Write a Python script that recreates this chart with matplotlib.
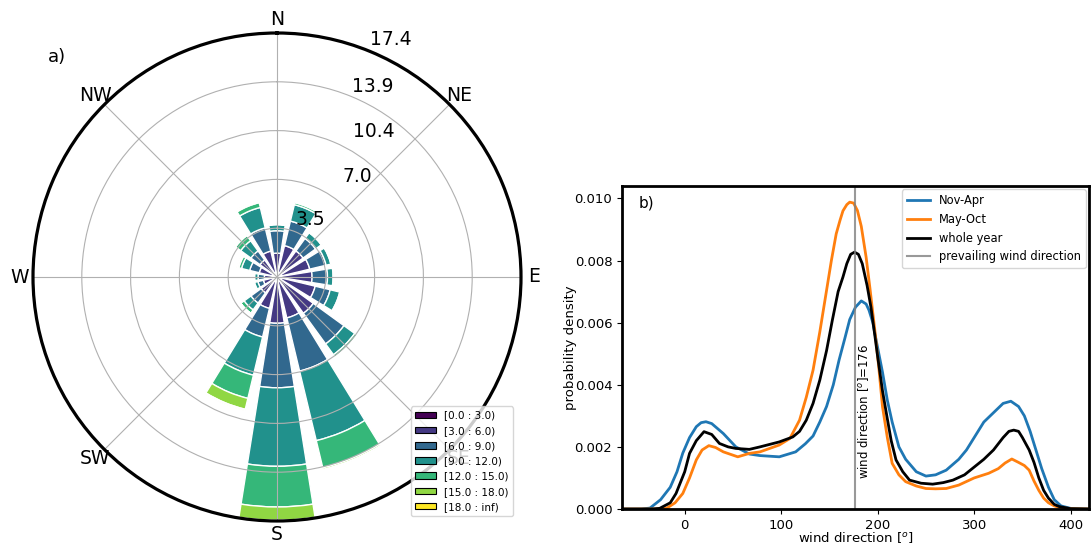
import numpy as np
import matplotlib
matplotlib.use("Agg")
import matplotlib.pyplot as plt
from matplotlib.patches import Patch
from matplotlib.transforms import offset_copy

# ---------------- data: wind rose (percent per sector and speed bin) ----------------
directions = [0, 22.5, 45, 67.5, 90, 112.5, 135, 157.5, 180, 202.5, 225, 247.5, 270, 292.5, 315, 337.5]
speed_labels = ["[0.0 : 3.0)", "[3.0 : 6.0)", "[6.0 : 9.0)", "[9.0 : 12.0)",
                "[12.0 : 15.0)", "[15.0 : 18.0)", "[18.0 : inf)"]
bin_0_3 =   [0.3, 0.3, 0.3, 0.3, 0.3, 0.3, 0.3, 0.3, 0.3, 0.3, 0.3, 0.25, 0.25, 0.3, 0.3, 0.3]
bin_3_6 =   [1.4, 2.0, 2.0, 2.1, 2.2, 2.5, 2.9, 2.7, 3.0, 2.0, 1.1, 0.75, 0.65, 1.0, 1.2, 1.6]
bin_6_9 =   [1.6, 1.8, 1.1, 1.2, 1.1, 1.1, 2.7, 3.9, 4.6, 2.1, 0.9, 0.4, 0.45, 0.7, 0.8, 1.7]
bin_9_12 =  [0.45, 1.2, 0.5, 0.35, 0.4, 0.7, 0.95, 5.1, 5.6, 2.8, 0.6, 0.25, 0.25, 0.6, 0.9, 1.5]
bin_12_15 = [0.0, 0.15, 0.1, 0.05, 0.1, 0.1, 0.2, 2.0, 2.9, 1.7, 0.3, 0.1, 0.1, 0.2, 0.45, 0.35]
bin_15_18 = [0.0, 0.05, 0.0, 0.0, 0.0, 0.0, 0.05, 0.12, 0.95, 0.8, 0.0, 0.0, 0.0, 0.1, 0.1, 0.1]
bin_18_inf = [0.0, 0.0, 0.0, 0.0, 0.0, 0.0, 0.0, 0.03, 0.05, 0.1, 0.0, 0.0, 0.0, 0.05, 0.0, 0.05]
rose_bins = [bin_0_3, bin_3_6, bin_6_9, bin_9_12, bin_12_15, bin_15_18, bin_18_inf]
compass_labels = ["N", "NE", "E", "SE", "S", "SW", "W", "NW"]

# ---------------- data: KDE curves ----------------
nov_apr_x = [-65, -45, -36, -25, -15, -8, -2, 5, 12, 17, 22, 28, 40, 53, 67, 78, 98, 115, 125, 133,
             140, 147, 154, 160, 166, 171, 177, 183, 188, 191, 195, 198, 205, 210, 215, 222, 229, 240, 250, 260,
             271, 284, 292, 300, 310, 320, 330, 338, 346, 352, 358, 364, 370, 377, 383, 390, 400, 419]
nov_apr_y = [0, 0, 0.00003, 0.0003, 0.0007, 0.0012, 0.0018, 0.0023, 0.00265, 0.00278,
             0.00281, 0.00275, 0.00243, 0.002, 0.00177, 0.00172, 0.00168, 0.00184, 0.0021, 0.00235,
             0.0028, 0.0033, 0.0040, 0.0048, 0.0055, 0.0061, 0.0065, 0.0067, 0.0066, 0.0064,
             0.0060, 0.0055, 0.0044, 0.0035, 0.0028, 0.0020, 0.0016, 0.0012, 0.00106, 0.0011,
             0.00125, 0.0016, 0.0019, 0.0023, 0.0028, 0.0031, 0.0034, 0.00347, 0.0033, 0.0030,
             0.0025, 0.0019, 0.0013, 0.0007, 0.0003, 0.0001, 0.00002, 0]

may_oct_x = [-65, -30, -19, -10, -2, 5, 12, 18, 25, 32, 40, 55, 67, 78, 98, 109, 119, 126, 133, 140,
             147, 152, 157, 161, 164, 168, 171, 175, 179, 183, 188, 192, 197, 201, 205, 210, 215, 222, 229, 240,
             250, 260, 271, 284, 300, 315, 325, 332, 339, 346, 352, 357, 362, 367, 372, 377, 383, 388, 400, 419]
may_oct_y = [0, 0, 0.00002, 0.0002, 0.0005, 0.001, 0.00158, 0.0019, 0.00204, 0.00198,
             0.00184, 0.00168, 0.00179, 0.00184, 0.00206, 0.00227, 0.00286, 0.0036, 0.00447, 0.0057,
             0.00704, 0.0080, 0.00886, 0.0093, 0.0096, 0.0098, 0.00988, 0.00985, 0.00961, 0.0091,
             0.00811, 0.0071, 0.00576, 0.0046, 0.00329, 0.0023, 0.00147, 0.0011, 0.00088, 0.00074,
             0.00066, 0.00065, 0.00066, 0.00077, 0.001, 0.00115, 0.0013, 0.00148, 0.00161, 0.0015,
             0.0014, 0.00125, 0.0009, 0.0006, 0.00035, 0.0002, 0.0001, 0.00005, 0.00001, 0]

whole_x = [-65, -35, -26, -15, -9, 0, 5, 12, 20, 28, 36, 45, 53, 67, 78, 98, 112, 119, 126, 133,
           140, 147, 153, 159, 164, 168, 172, 176, 180, 184, 189, 193, 197, 200, 205, 209, 214, 219, 226, 233,
           245, 257, 268, 278, 290, 300, 310, 320, 330, 336, 341, 346, 350, 357, 362, 367, 372, 377, 383, 388,
           400, 419]
whole_y = [0, 0, 0.00002, 0.0002, 0.0005, 0.0012, 0.00179, 0.0022, 0.00249, 0.0024,
           0.00211, 0.002, 0.00195, 0.00192, 0.002, 0.00216, 0.00232, 0.0025, 0.00286, 0.0034,
           0.00415, 0.0051, 0.00608, 0.0070, 0.00747, 0.0079, 0.0082, 0.00827, 0.0082, 0.0079,
           0.0072, 0.0065, 0.0056, 0.0049, 0.0038, 0.00308, 0.0022, 0.00158, 0.0012, 0.00093,
           0.00083, 0.0008, 0.00085, 0.00093, 0.0011, 0.00135, 0.0016, 0.0019, 0.0023, 0.0025,
           0.00254, 0.0025, 0.0023, 0.0019, 0.0015, 0.001, 0.0006, 0.00035, 0.00015, 0.00008,
           0.00001, 0]

prevailing_dir = 176

# ---------------- figure ----------------
fig = plt.figure(figsize=(10.91, 5.47), dpi=100)

# ---- a) wind rose ----
ax = fig.add_axes([33 / 1091, 26 / 547, 488 / 1091, 488 / 547], projection="polar")
ax.set_theta_zero_location("N")
ax.set_theta_direction(-1)
colors = plt.cm.viridis(np.linspace(0, 1, len(rose_bins)))
theta = np.deg2rad(directions)
width = np.deg2rad(360 / len(directions)) * 0.8
bottom = np.zeros(len(directions))
for vals, col, lab in zip(rose_bins, colors, speed_labels):
    vals = np.asarray(vals, dtype=float)
    ax.bar(theta, vals, width=width, bottom=bottom, color=col, edgecolor="white",
           linewidth=1.0, label=lab, zorder=1)
    bottom = bottom + vals
rmax = bottom.max()
ax.set_ylim(0, rmax)
ax.set_axisbelow(False)
radii = np.linspace(0, rmax, 6)[1:]
ax.set_rgrids(radii[:-1], labels=[""] * (len(radii) - 1), angle=22.5)
# radial labels, placed beside the rings along 22.5 deg
label_shift = [(0, 12), (28, 10), (20, 10), (0, 10), (0, 12)]
for r, (dx, dy) in zip(radii, label_shift):
    tr = offset_copy(ax.transData, fig=fig, x=dx, y=dy, units="dots")
    ax.text(np.deg2rad(22.5), r, "%.1f" % r, transform=tr, ha="left", va="center",
            fontsize=13.5, zorder=5)
ax.set_thetagrids(np.arange(0, 360, 45), labels=compass_labels, fontsize=13.5)
ax.grid(True, color="#b0b0b0", linewidth=0.8)
ax.spines["polar"].set_linewidth(2.3)
ax.spines["polar"].set_zorder(4)
ax.tick_params(axis="x", pad=-1)

handles = [Patch(facecolor=c, edgecolor="black", linewidth=0.8) for c in colors]
fig.legend(handles, speed_labels, loc="lower left", bbox_to_anchor=(411 / 1091, 31 / 547),
           bbox_transform=fig.transFigure, borderaxespad=0, fontsize=7.5,
           handlelength=2.0, handleheight=0.6, labelspacing=0.5)
fig.text(57 / 1091, 1 - 57 / 547, "a)", fontsize=13, ha="center", va="center")

# ---- b) KDE ----
ax2 = fig.add_axes([622 / 1091, 1 - 509 / 547, 467 / 1091, 323 / 547])
ax2.plot(nov_apr_x, nov_apr_y, color="#1f77b4", lw=2, label="Nov-Apr")
ax2.plot(may_oct_x, may_oct_y, color="#ff7f0e", lw=2, label="May-Oct")
ax2.plot(whole_x, whole_y, color="black", lw=2, label="whole year")
ax2.axvline(prevailing_dir, color="grey", lw=1.5, alpha=0.8, label="prevailing wind direction")
ax2.text(prevailing_dir + 2, 0.00095, "wind direction [$^o$]=%d" % prevailing_dir, rotation=90,
         ha="left", va="bottom", fontsize=8.5)
ax2.set_xlim(-65, 419)
ax2.set_ylim(0, 0.0104)
ax2.set_xticks([0, 100, 200, 300, 400])
ax2.set_yticks([0, 0.002, 0.004, 0.006, 0.008, 0.010])
ax2.set_yticklabels(["%.3f" % v for v in [0, 0.002, 0.004, 0.006, 0.008, 0.010]])
ax2.tick_params(labelsize=9.5)
ax2.set_xlabel("wind direction [$^o$]", fontsize=9.5, labelpad=-1)
ax2.set_ylabel("probability density", fontsize=9.5, labelpad=-1.5)
for s in ax2.spines.values():
    s.set_linewidth(2)
ax2.legend(loc="upper right", fontsize=8.3, borderaxespad=0.3)
ax2.text(0.036, 0.97, "b)", transform=ax2.transAxes, fontsize=11, ha="left", va="top")

fig.savefig("out.png", dpi=100)
